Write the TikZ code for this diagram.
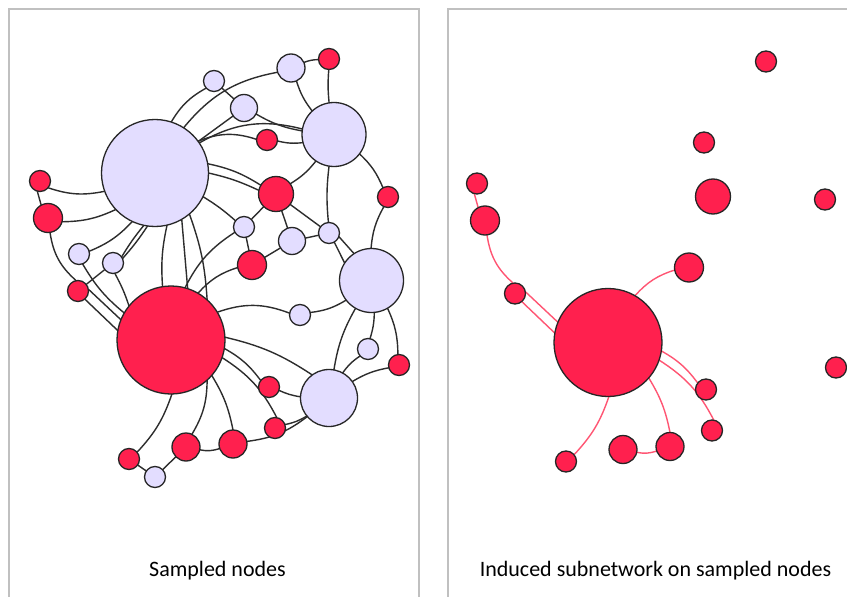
\documentclass[tikz,border=0pt]{standalone}
\usepackage{fontspec}
\setmainfont{Carlito}
\definecolor{redc}{RGB}{255,32,78}
\definecolor{lavc}{RGB}{227,221,255}
\definecolor{olc}{RGB}{38,38,38}
\definecolor{edc}{RGB}{45,45,45}
\definecolor{redl}{RGB}{255,85,115}
\definecolor{framec}{RGB}{192,192,192}
\pgfdeclarelayer{back}
\pgfdeclarelayer{edges}
\pgfsetlayers{back,edges,main}
\begin{document}
\begin{tikzpicture}[x=1pt,y=-1pt,
  nd/.style={circle,draw=olc,line width=1.3pt,inner sep=0pt,outer sep=0pt,minimum size=#1},
  rd/.style={nd=#1,fill=redc},
  lv/.style={nd=#1,fill=lavc},
  ed/.style={draw=edc,line width=1.4pt},
  er/.style={draw=redl,line width=1.4pt},
  frame/.style={draw=framec,line width=2.5pt},
  caption/.style={font=\fontsize{22}{26}\selectfont,anchor=base,text=black}]
\useasboundingbox (0,0) rectangle (847,597);
\clip (0,0) rectangle (847,597);
\begin{pgfonlayer}{back}
\fill[white] (0,0) rectangle (847,597);
\end{pgfonlayer}
% panels
\draw[frame] (9,9) rectangle (419,640);
\draw[frame] (448,9) rectangle (870,640);
\node[caption] (cap1) at (217.5,576) {Sampled nodes};
\node[caption] (cap2) at (655.5,576) {Induced subnetwork on sampled nodes};
% ---------- left panel nodes ----------
\node[lv=107] (A) at (155,173) {};
\node[rd=108] (B) at (171,340) {};
\node[lv=64] (C) at (334,134.5) {};
\node[lv=64] (D) at (371.5,280.5) {};
\node[lv=57] (E) at (329,398) {};
\node[rd=21] (F) at (329,59) {};
\node[lv=28] (G) at (291,68) {};
\node[lv=21] (H) at (214,81) {};
\node[lv=27] (I) at (244,108) {};
\node[rd=21] (J) at (267,140) {};
\node[rd=35] (K) at (276,194) {};
\node[rd=21] (L) at (388,197) {};
\node[rd=21] (M) at (40,181) {};
\node[rd=29] (N) at (48,218) {};
\node[lv=21] (O) at (79,254) {};
\node[lv=21] (P) at (113,263) {};
\node[rd=21] (Q) at (78,291) {};
\node[lv=21] (R) at (244,227) {};
\node[rd=29] (S) at (252,265) {};
\node[lv=27] (T) at (292,241) {};
\node[lv=21] (U) at (329,233) {};
\node[lv=21] (V) at (300,315) {};
\node[lv=21] (W) at (368,349) {};
\node[rd=21] (X) at (399,365) {};
\node[rd=21] (Y) at (269,387) {};
\node[rd=21] (Z) at (275,428) {};
\node[rd=28] (AA) at (233,444) {};
\node[rd=28] (AB) at (186,447) {};
\node[rd=21] (AC) at (129,459) {};
\node[lv=21] (AD) at (155,477) {};
% ---------- right panel nodes ----------
\begin{scope}[shift={(437,2.5)}]
\node[rd=108] (rB) at (171,340) {};
\node[rd=21] (rF) at (329,59) {};
\node[rd=21] (rJ) at (267,140) {};
\node[rd=35] (rK) at (276,194) {};
\node[rd=21] (rL) at (388,197) {};
\node[rd=21] (rM) at (40,181) {};
\node[rd=29] (rN) at (48,218) {};
\node[rd=21] (rQ) at (78,291) {};
\node[rd=29] (rS) at (252,265) {};
\node[rd=21] (rX) at (399,365) {};
\node[rd=21] (rY) at (269,387) {};
\node[rd=21] (rZ) at (275,428) {};
\node[rd=28] (rAA) at (233,444) {};
\node[rd=28] (rAB) at (186,447) {};
\node[rd=21] (rAC) at (129,459) {};
\end{scope}
% ---------- edges ----------
\begin{pgfonlayer}{edges}
% left panel
\draw[ed] (M.-105) -- (N.118);
\draw[ed] (M.-40) to[bend right=15] (A.200);
\draw[ed] (N.-15) to[bend right=12] (A.223);
\draw[ed] (O.15) to[bend right=12] (A.245);
\draw[ed] (P.35) to[bend left=4] (A.258);
\draw[ed] (P.25) to[bend right=4] (A.262);
\draw[ed] (A) to[bend left=15] (H);
\draw[ed] (A) to[bend left=20] (G);
\draw[ed] (H) -- (I);
\draw[ed] (A) -- (I);
\draw[ed] (A) to[bend left=22] (C);
\draw[ed] (A) to[bend left=20] (J);
\draw[ed] (I) to[bend right=10] (C);
\draw[ed] (J) to[bend right=10] (C);
\draw[ed] (A.10) to[bend left=10] (K.150);
\draw[ed] (A.0) to[bend left=6] (K.168);
\draw[ed] (A) to[bend left=5] (R);
\draw[ed] (A.-77) to[bend right=8] (B.99);
\draw[ed] (A.-60) -- (B.72);
\draw[ed] (A.-50) to[bend left=8] (B.48);
\draw[ed] (R.210) to[bend right=15] (B.75);
\draw[ed] (B.60) to[bend left=15] (S.190);
\draw[ed] (B.31) to[bend left=20] (V.170);
\draw[ed] (B.3) to[bend left=10] (E.126);
\draw[ed] (B.-9) to[bend left=12] (Y.142);
\draw[ed] (B.-19) to[bend left=15] (Z.80);
\draw[ed] (B.-41) to[bend left=10] (AA.90);
\draw[ed] (B.-48) to[bend left=15] (AB.65);
\draw[ed] (B.-89) to[bend left=12] (AC.40);
\draw[ed] (Q.10) -- (B.158);
\draw[ed] (Q.-50) -- (B.170);
\draw[ed] (N.-82) to[bend right=20] (Q.100);
\draw[ed] (O.-70) to[bend right=10] (B.150);
\draw[ed] (P.-80) to[bend left=5] (B.141);
\draw[ed] (Q) -- (P);
\draw[ed] (K) to[bend right=10] (C);
\draw[ed] (K) -- (T);
\draw[ed] (K) -- (U);
\draw[ed] (R) -- (K);
\draw[ed] (G) to[bend right=10] (C);
\draw[ed] (F) to[bend right=5] (C);
\draw[ed] (G) to[bend left=10] (F);
\draw[ed] (C) to[bend left=12] (L);
\draw[ed] (C) to[bend right=6] (U);
\draw[ed] (L) to[bend right=12] (D);
\draw[ed] (U.-20) -- (D.123);
\draw[ed] (U.-60) -- (D.147);
\draw[ed] (T) -- (U);
\draw[ed] (T) -- (S);
\draw[ed] (R) -- (S);
\draw[ed] (V) to[bend right=12] (D);
\draw[ed] (D) to[bend left=8] (W);
\draw[ed] (D) to[bend left=12] (X);
\draw[ed] (D) to[bend right=10] (E);
\draw[ed] (W) to[bend right=10] (E);
\draw[ed] (X) to[bend right=10] (E);
\draw[ed] (Y) to[bend right=8] (E);
\draw[ed] (Z) to[bend right=10] (E);
\draw[ed] (AA) to[bend right=15] (E);
\draw[ed] (AB) to[bend right=15] (AA);
\draw[ed] (AB) -- (AD);
\draw[ed] (AC) -- (AD);
% right panel
\draw[er] (rM.-105) -- (rN.118);
\draw[er] (rN.-82) to[bend right=20] (rQ.100);
\draw[er] (rQ.10) -- (rB.158);
\draw[er] (rQ.-50) -- (rB.170);
\draw[er] (rB.60) to[bend left=15] (rS.190);
\draw[er] (rB.-9) to[bend left=12] (rY.142);
\draw[er] (rB.-19) to[bend left=15] (rZ.80);
\draw[er] (rB.-41) to[bend left=10] (rAA.90);
\draw[er] (rAB) to[bend right=15] (rAA);
\draw[er] (rB.-89) to[bend left=12] (rAC.40);
\end{pgfonlayer}
\end{tikzpicture}
\end{document}
